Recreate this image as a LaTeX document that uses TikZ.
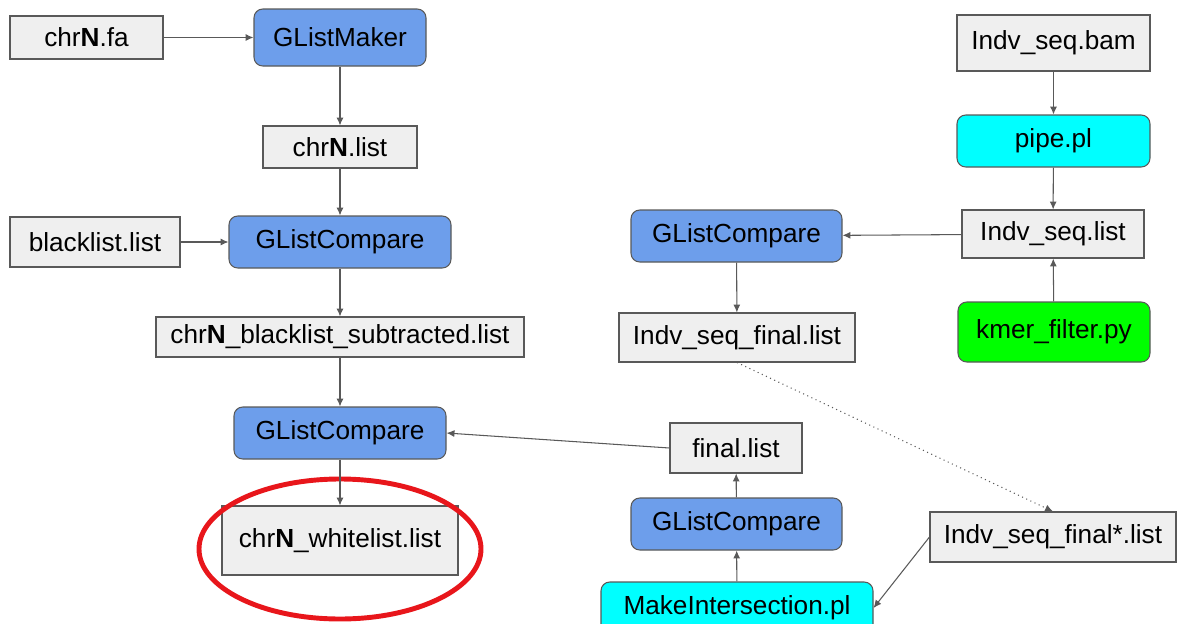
\documentclass[tikz,border=0pt]{standalone}
\usepackage{fontspec}
\setmainfont{Liberation Sans}
\usepackage{tikz}
\usetikzlibrary{arrows.meta,positioning,shapes.geometric}
\definecolor{gdblue}{HTML}{6D9EEB}
\definecolor{gdcyan}{HTML}{00FFFF}
\definecolor{gdgreen}{HTML}{00FF00}
\definecolor{gdfile}{HTML}{EFEFEF}
\definecolor{gdline}{HTML}{595959}
\definecolor{gdred}{HTML}{E8161B}
\tikzset{
  fl/.style  = {rectangle, draw=gdline, line width=0.6pt, fill=gdfile,
                inner sep=0pt, font=\fontsize{14.9}{18}\selectfont},
  pr/.style  = {fl, rounded corners=5pt, fill=gdblue},
  ed/.style  = {-{Latex[length=4.5pt,width=4pt]}, draw=gdline, line width=0.6pt},
  edd/.style = {ed, dotted},
}

\begin{document}
\begin{tikzpicture}[x=0.02cm,y=-0.02cm]
  \useasboundingbox (0,0) rectangle (1178,623);
  \clip (0,0) rectangle (1178,623);
  % left column
  \node[fl,minimum width=153*0.02cm,minimum height=43*0.02cm] (fa) at (86.5,37.5) {chr\textbf{N}.fa};
  \node[pr,minimum width=172*0.02cm,minimum height=57*0.02cm] (maker) at (340,37.5) {GListMaker};
  \node[fl,minimum width=154*0.02cm,minimum height=42*0.02cm] (chrlist) at (340,147) {chr\textbf{N}.list};
  \node[fl,minimum width=170*0.02cm,minimum height=50*0.02cm] (black) at (95,242) {blacklist.list};
  \node[pr,minimum width=222*0.02cm,minimum height=52*0.02cm] (cmpa) at (340,242) {GListCompare};
  \node[fl,minimum width=368*0.02cm,minimum height=40*0.02cm] (sub) at (340,337) {chr\textbf{N}\_blacklist\_subtracted.list};
  \node[pr,minimum width=212*0.02cm,minimum height=52*0.02cm] (cmpb) at (340,433) {GListCompare};
  \node[fl,minimum width=236*0.02cm,minimum height=69*0.02cm] (white) at (340,540.5) {chr\textbf{N}\_whitelist.list};
  \draw[gdred,line width=2.8pt] (340,549) ellipse [x radius=141, y radius=70];
  % right column
  \node[fl,minimum width=193*0.02cm,minimum height=56*0.02cm] (bam) at (1053.5,43) {Indv\_seq.bam};
  \node[pr,fill=gdcyan,minimum width=193*0.02cm,minimum height=52*0.02cm] (pipe) at (1053.5,141) {pipe.pl};
  \node[fl,minimum width=182*0.02cm,minimum height=48*0.02cm] (seqlist) at (1053,234) {Indv\_seq.list};
  \node[pr,fill=gdgreen,minimum width=192*0.02cm,minimum height=60*0.02cm] (kmer) at (1054,332) {kmer\_filter.py};
  \node[pr,minimum width=211*0.02cm,minimum height=52*0.02cm] (cmpc) at (736.5,236) {GListCompare};
  \node[fl,minimum width=236*0.02cm,minimum height=49*0.02cm] (seqfinal) at (737,337.5) {Indv\_seq\_final.list};
  \node[fl,minimum width=132*0.02cm,minimum height=50*0.02cm] (final) at (736,448) {final.list};
  \node[pr,minimum width=211*0.02cm,minimum height=52*0.02cm] (cmpd) at (736.5,524) {GListCompare};
  \node[pr,fill=gdcyan,minimum width=272*0.02cm,minimum height=52*0.02cm] (inter) at (737,608) {MakeIntersection.pl};
  \node[fl,minimum width=246*0.02cm,minimum height=50*0.02cm] (seqstar) at (1053,537) {Indv\_seq\_final*.list};
  % connectors
  \foreach \a/\b in {fa/maker, maker/chrlist, chrlist/cmpa, black/cmpa, cmpa/sub, sub/cmpb,
                     cmpb/white, bam/pipe, pipe/seqlist, kmer/seqlist, seqlist/cmpc,
                     cmpc/seqfinal, cmpd/final, inter/cmpd}{
    \draw[ed] (\a) -- (\b);
  }
  \draw[ed] (final.west) -- (cmpb.east);
  \draw[ed] (seqstar.west) -- (inter.east);
  \draw[edd] (seqfinal.south) -- (seqstar.north);
\end{tikzpicture}
\end{document}
